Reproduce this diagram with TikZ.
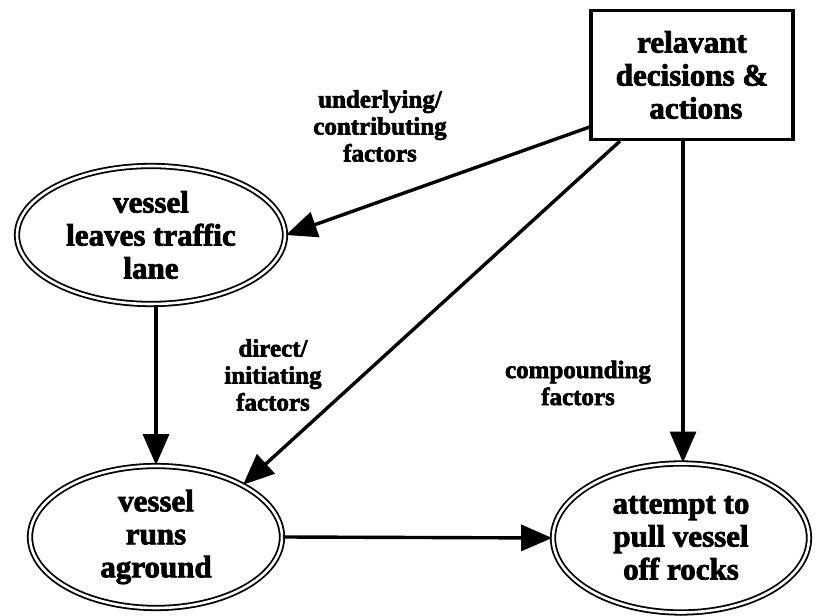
\documentclass[tikz,border=0pt]{standalone}
\usepackage{fontspec}
\setmainfont{Liberation Serif}[BoldFeatures={FakeBold=2.5}]
\usetikzlibrary{shapes.geometric,arrows.meta}
\begin{document}
\begin{tikzpicture}[x=1pt,y=1pt,
  eventnode/.style={ellipse,draw,line width=1.8pt,double,double distance=2.6pt,
    inner sep=0pt,align=center,font=\bfseries\fontsize{31}{33}\selectfont},
  actbox/.style={rectangle,draw,line width=3.2pt,minimum width=202pt,minimum height=129pt,
    align=center,font=\bfseries\fontsize{31}{33}\selectfont},
  lbl/.style={align=center,font=\bfseries\fontsize{25}{27}\selectfont},
  link/.style={line width=3.4pt,-{Triangle[length=31pt,width=26pt]}}]
\useasboundingbox (0,0) rectangle (820,616);
\fill[white] (0,0) rectangle (820,616);

% decisions box and the three events
\node[actbox] (act) at (692,541) {relavant\\decisions \&\\\ actions};
\node[eventnode,minimum width=268pt,minimum height=138pt] (lane) at (151,381) {vessel\\leaves traffic\\lane};
\node[eventnode,minimum width=252pt,minimum height=142pt] (ground) at (156,79) {vessel\\runs\\aground};
\node[eventnode,minimum width=256pt,minimum height=149pt] (pull) at (681,78) {attempt to\\pull vessel\\off rocks};

% factor labels
\node[lbl] (under) at (380,490) {underlying/\\contributing\\factors};
\node[lbl] (direct) at (273,241) {direct/\\initiating\\factors};
\node[lbl] (comp) at (578,233) {compounding\\factors};

% connectors
\draw[link] ([yshift=14pt]act.south west) -- (lane.east);
\draw[link] ([xshift=-72pt]act.south) -- (ground.31);
\draw[link] ([xshift=2pt]act.south -| pull) -- ([xshift=2pt]pull.north);
\draw[link] (lane.south -| ground) -- (ground.north);
\draw[link] (ground.east) -- (pull.west);
\end{tikzpicture}
\end{document}
